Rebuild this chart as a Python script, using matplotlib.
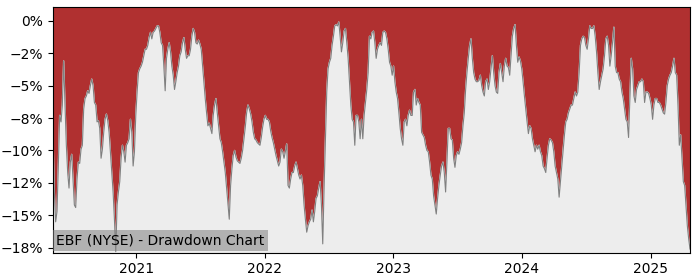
import pandas as pd
import matplotlib
matplotlib.use("Agg")
import matplotlib.pyplot as plt
import matplotlib.dates as mdates
from matplotlib.ticker import PercentFormatter

# drawdown in percent, every 4 days
dd_2020 = [-8.85, -13.2, -15.5, -14.7, -11.2, -7.3, -7.8, -6.5, -3.1, -6.5, -9.6, -11.7, -12.9, -10.9, -10.3,
           -12.2, -14.2, -14.4, -12.2, -10.9, -11.0, -9.9, -9.6, -6.8, -6.0, -5.8, -5.4, -5.6, -5.0, -4.5,
           -5.0, -6.3, -6.5, -7.8, -7.7, -8.3, -10.6, -9.9, -8.6, -7.6, -7.2, -7.7, -8.6, -10.1, -11.7,
           -13.2, -15.3, -17.8, -14.2, -13.2, -12.4, -10.6, -9.6, -10.1, -10.9, -9.6, -9.4]
dd_2021a = [-9.1, -7.6, -8.6, -11.2, -10.1, -7.3, -5.5, -4.0, -3.7, -3.5, -3.2, -2.7, -2.2, -2.2, -1.9,
            -1.3, -0.9, -1.4, -0.9, -0.8, -0.6, -0.4, -0.4, -0.9, -1.7, -1.9, -3.5, -5.4, -2.9, -2.2,
            -1.7, -2.4, -3.5, -4.2, -5.3, -4.7, -4.0, -3.5, -2.7, -2.4, -1.7, -1.3, -2.2, -2.9, -2.7,
            -2.7, -2.2, -1.2, -0.6, -0.9, -1.7, -1.8, -1.5, -1.8, -2.2, -3.5, -4.7, -6.0, -7.1, -8.1]
dd_2021b = [-7.9, -8.3, -8.7, -7.3, -6.5, -6.0, -7.1, -8.1, -9.1, -9.4, -10.1, -10.9, -11.7, -12.9, -14.2,
            -15.3, -12.7, -11.4, -10.4, -10.0, -10.5, -10.8, -10.9, -11.0, -10.6, -10.0, -9.1, -8.2, -7.1,
            -6.5, -6.8, -7.2, -7.8, -8.6, -9.1, -9.2, -9.4, -9.5, -9.6, -9.0, -8.2, -7.6, -7.3, -7.6,
            -7.6, -7.8, -8.5, -9.0, -9.4, -9.9, -10.4, -10.8, -11.2, -10.9, -9.9, -10.1, -10.6, -10.1,
            -9.5, -12.7]
dd_2022 = [-12.9, -12.2, -11.7, -11.7, -11.2, -10.9, -11.4, -11.9, -12.2, -11.9, -12.7, -14.2, -15.3, -16.3,
           -15.8, -15.5, -15.3, -14.6, -15.5, -14.7, -13.7, -13.5, -12.9, -12.4, -14.2, -17.2, -12.9, -9.1,
           -5.5, -3.7, -3.2, -2.9, -1.9, -1.2, -0.4, -0.3, -0.4, -0.1, -1.2, -2.4, -1.7, -0.8, -0.6,
           -1.7, -2.9, -4.7, -6.5, -7.6, -7.8, -9.6, -7.3, -7.3, -7.8, -9.1, -7.6, -9.1, -7.3, -6.3,
           -5.3, -4.0]
dd_2023 = [-1.2, -1.4, -0.9, -0.8, -1.7, -2.9, -2.2, -1.9, -1.7, -1.9, -0.9, -0.8, -0.9, -1.4, -2.2,
           -3.2, -3.5, -4.2, -3.5, -4.7, -5.5, -6.0, -7.1, -8.3, -9.1, -9.6, -7.8, -7.6, -8.1, -7.3,
           -6.9, -7.3, -7.3, -5.5, -5.3, -6.5, -6.0, -6.3, -6.5, -8.6, -8.8, -9.0, -9.6, -10.0, -10.1,
           -10.9, -11.9, -12.2, -13.5, -14.2, -14.9, -13.7, -12.7, -11.9, -11.2, -10.9, -11.7, -13.2,
           -10.9, -8.3]
dd_2024a = [-8.3, -9.1, -9.2, -10.6, -11.3, -10.4, -10.1, -10.3, -9.9, -9.4, -8.1, -7.1, -5.3, -4.0, -2.9,
            -1.9, -1.4, -2.9, -4.0, -4.5, -4.7, -4.7, -4.6, -4.2, -5.0, -5.5, -5.8, -4.7, -4.5, -5.3,
            -4.7, -3.7, -2.7, -4.0, -5.0, -5.5, -5.6, -4.0, -3.3, -4.0, -4.7, -3.5, -2.9, -3.5, -3.6,
            -4.2, -2.7, -1.2, -0.6, -0.3, -1.9, -3.2, -2.8, -3.1, -3.7, -4.7, -5.8, -6.8, -7.8, -8.7]
dd_2024b = [-8.1, -8.3, -9.1, -9.6, -10.1, -9.6, -9.9, -9.6, -10.1, -10.4, -11.2, -11.4, -11.7, -10.6, -9.6,
            -9.1, -9.2, -9.4, -10.1, -11.2, -11.7, -12.2, -13.6, -12.4, -11.2, -9.9, -8.8, -7.8, -7.6,
            -7.1, -6.8, -6.5, -6.5, -6.0, -5.5, -5.8, -5.5, -4.0, -1.9, -1.4, -1.2, -1.3, -1.9, -2.2,
            -1.4, -0.4, -0.6, -0.6, -0.4, -1.2, -2.4, -4.0, -5.3, -4.7, -4.2, -3.7, -2.7, -1.4, -1.2, -1.9]
dd_2025 = [-3.5, -2.7, -1.7, -0.5, -3.5, -4.0, -4.0, -4.5, -4.7, -5.5, -6.0, -6.8, -7.6, -7.8, -9.0,
           -6.0, -2.9, -3.7, -5.8, -6.3, -5.3, -5.0, -4.7, -4.7, -4.5, -4.7, -6.3, -5.5, -5.5, -5.6,
           -6.0, -6.5, -7.6, -6.5, -6.0, -6.0, -6.3, -6.3, -6.5, -6.8, -7.1, -7.2, -6.3, -5.0, -4.5,
           -4.2, -4.0, -3.5, -2.9, -4.0, -4.2, -6.5, -9.6, -8.8, -10.6, -12.4, -12.7, -14.2, -15.8,
           -16.8, -17.6]

drawdown = dd_2020 + dd_2021a + dd_2021b + dd_2022 + dd_2023 + dd_2024a + dd_2024b + dd_2025
dates = pd.date_range('2020-05-10', '2025-04-23', periods=len(drawdown))
y_ticks = [0, -2.5, -5, -7.5, -10, -12.5, -15, -17.5]
title = 'EBF (NYSE) - Drawdown Chart'

fig = plt.figure(figsize=(7, 2.8), dpi=100)
ax = fig.add_axes([0.0757, 0.0975, 0.91, 0.8785])

ax.set_facecolor('#b03030')
ax.fill_between(dates, drawdown, -100, color='#ededed', zorder=1)
ax.plot(dates, drawdown, color='grey', linewidth=0.8, zorder=2)

ax.set_xlim(dates[0], dates[-1])
ax.set_ylim(-17.88, 1.08)
ax.set_yticks(y_ticks)
ax.yaxis.set_major_formatter(PercentFormatter(xmax=100, decimals=0))
ax.xaxis.set_major_locator(mdates.YearLocator())
ax.xaxis.set_major_formatter(mdates.DateFormatter('%Y'))
ax.tick_params(labelsize=10)

ax.annotate(title, xy=(0, 0), xycoords='axes fraction', xytext=(2.5, 3.5), textcoords='offset points',
            fontsize=10, ha='left', va='bottom', zorder=5,
            bbox=dict(boxstyle='square,pad=0.25', facecolor='grey', edgecolor='none', alpha=0.55))

fig.savefig('out.png', dpi=100)
